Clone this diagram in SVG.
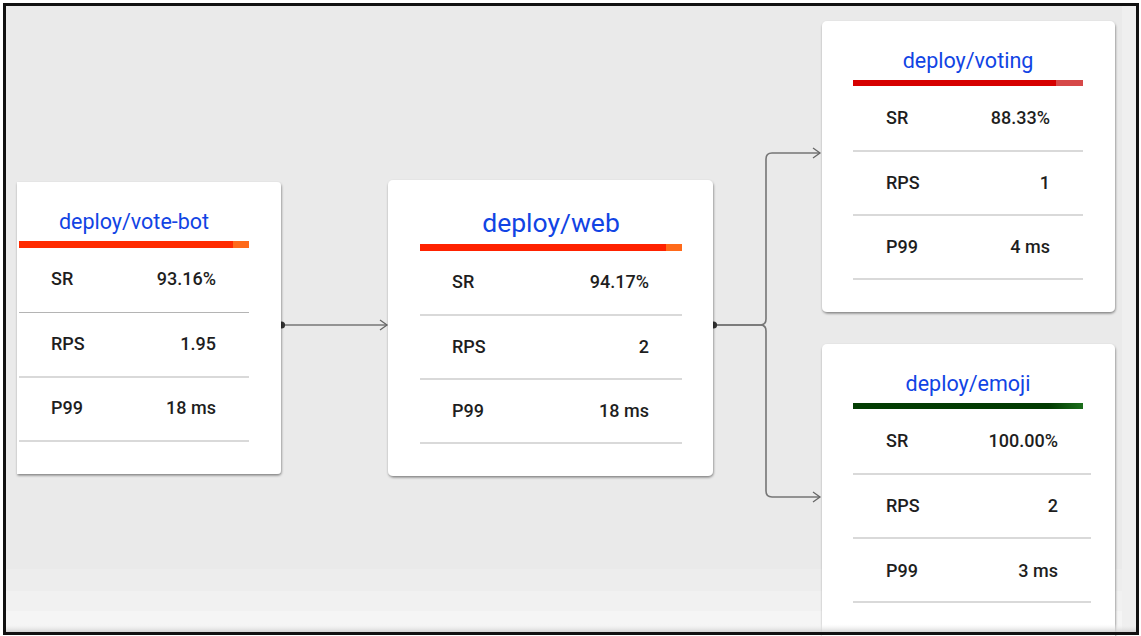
<svg xmlns="http://www.w3.org/2000/svg" width="1141" height="636" viewBox="0 0 1141 636">
<defs>
<style>
.card{fill:#ffffff;filter:url(#sh)}
.title{font-family:Roboto,"Liberation Sans",sans-serif;fill:#1144e4;text-anchor:middle}
.lbl{font-family:Roboto,"Liberation Sans",sans-serif;font-size:18px;font-weight:500;fill:#1e1e1e}
.val{font-family:Roboto,"Liberation Sans",sans-serif;font-size:18px;font-weight:500;fill:#1e1e1e;text-anchor:end}
.sep{stroke:#b4b4b4;stroke-width:1.2}
.edge{fill:none;stroke:#767676;stroke-width:1.6}
</style>
<filter id="sh" x="-5%" y="-5%" width="110%" height="115%">
<feDropShadow dx="0.5" dy="1.5" stdDeviation="1.2" flood-color="#000" flood-opacity="0.45"/>
</filter>
<marker id="arr" markerUnits="userSpaceOnUse" markerWidth="12" markerHeight="14" refX="8" refY="6" orient="auto">
<path d="M1,1 L8,6 L1,11" fill="none" stroke="#666" stroke-width="1.3"/>
</marker>
<linearGradient id="green" x1="0" x2="1" y1="0" y2="0">
<stop offset="0" stop-color="#033d03"/><stop offset="0.85" stop-color="#023a02"/><stop offset="1" stop-color="#1b6e1b"/>
</linearGradient>
<linearGradient id="bot" x1="0" x2="0" y1="0" y2="1">
<stop offset="0" stop-color="#f5f5f5" stop-opacity="0"/><stop offset="1" stop-color="#c8c8c8"/>
</linearGradient>
</defs>
<rect x="0" y="0" width="1141" height="636" fill="#ffffff"/>
<rect x="4" y="4" width="1134" height="630" fill="#eaeaea"/>
<rect x="4" y="569" width="1134" height="22" fill="#ededed"/>
<rect x="4" y="591" width="1134" height="20" fill="#f1f1f1"/>
<rect x="4" y="611" width="1134" height="23" fill="#f5f5f5"/>
<rect x="1122" y="4" width="14" height="630" fill="#efefef"/>

<g id="connectors">
<path class="edge" d="M281,325 H387" marker-end="url(#arr)"/>
<circle cx="281.5" cy="325" r="3.6" fill="#333"/>
<path class="edge" d="M713,325 H760 Q766,325 766,319 V159 Q766,153 772,153 H820" marker-end="url(#arr)"/>
<path class="edge" d="M713,325 H760 Q766,325 766,331 V491 Q766,497 772,497 H820" marker-end="url(#arr)"/>
<circle cx="713.5" cy="325" r="3.6" fill="#333"/>
</g>

<g id="node-vote-bot">
<path class="card" d="M17,182 H277 Q281,182 281,186 V470 Q281,474 277,474 H17 Z"/>
<text class="title" x="134" y="229" font-size="21.5">deploy/vote-bot</text>
<rect x="19" y="241" width="214" height="7" fill="#ff2a00"/>
<rect x="233" y="241" width="16" height="7" fill="#ff6a1a"/>
<text class="lbl" x="51" y="285">SR</text><text class="val" x="216" y="285">93.16%</text>
<line class="sep" x1="19" y1="312.5" x2="249" y2="312.5"/>
<text class="lbl" x="51" y="350">RPS</text><text class="val" x="216" y="350">1.95</text>
<line class="sep" x1="19" y1="377" x2="249" y2="377"/>
<text class="lbl" x="51" y="414">P99</text><text class="val" x="216" y="414">18 ms</text>
<line class="sep" x1="19" y1="441" x2="249" y2="441"/>
</g>

<g id="node-web">
<rect class="card" x="388" y="180" width="325" height="296" rx="5"/>
<text class="title" x="551" y="232" font-size="26.5">deploy/web</text>
<rect x="420" y="244" width="246" height="7" fill="#ff2200"/>
<rect x="666" y="244" width="16" height="7" fill="#ff6a1a"/>
<text class="lbl" x="452" y="288">SR</text><text class="val" x="649" y="288">94.17%</text>
<line class="sep" x1="420" y1="315" x2="682" y2="315"/>
<text class="lbl" x="452" y="353">RPS</text><text class="val" x="649" y="353">2</text>
<line class="sep" x1="420" y1="379" x2="682" y2="379"/>
<text class="lbl" x="452" y="417">P99</text><text class="val" x="649" y="417">18 ms</text>
<line class="sep" x1="420" y1="443" x2="682" y2="443"/>
</g>

<g id="node-voting">
<rect class="card" x="822" y="21" width="293" height="291" rx="5"/>
<text class="title" x="968" y="68" font-size="21.5">deploy/voting</text>
<rect x="853" y="80" width="203" height="6" fill="#d60000"/>
<rect x="1056" y="80" width="27" height="6" fill="#d64848"/>
<text class="lbl" x="886" y="124">SR</text><text class="val" x="1050" y="124">88.33%</text>
<line class="sep" x1="853" y1="151" x2="1083" y2="151"/>
<text class="lbl" x="886" y="189">RPS</text><text class="val" x="1050" y="189">1</text>
<line class="sep" x1="853" y1="215" x2="1083" y2="215"/>
<text class="lbl" x="886" y="253">P99</text><text class="val" x="1050" y="253">4 ms</text>
<line class="sep" x1="853" y1="279" x2="1083" y2="279"/>
</g>

<g id="node-emoji">
<rect class="card" x="822" y="344" width="293" height="300" rx="5"/>
<text class="title" x="968" y="391" font-size="21.5">deploy/emoji</text>
<rect x="853" y="403" width="230" height="6" fill="url(#green)"/>
<text class="lbl" x="886" y="447">SR</text><text class="val" x="1058" y="447">100.00%</text>
<line class="sep" x1="853" y1="474" x2="1091" y2="474"/>
<text class="lbl" x="886" y="512">RPS</text><text class="val" x="1058" y="512">2</text>
<line class="sep" x1="853" y1="538" x2="1091" y2="538"/>
<text class="lbl" x="886" y="577">P99</text><text class="val" x="1058" y="577">3 ms</text>
<line class="sep" x1="853" y1="602" x2="1091" y2="602"/>
</g>

<rect x="4" y="624" width="1134" height="9" fill="url(#bot)"/>
<rect x="4.5" y="4.5" width="1133" height="629" fill="none" stroke="#111" stroke-width="3"/>
</svg>
